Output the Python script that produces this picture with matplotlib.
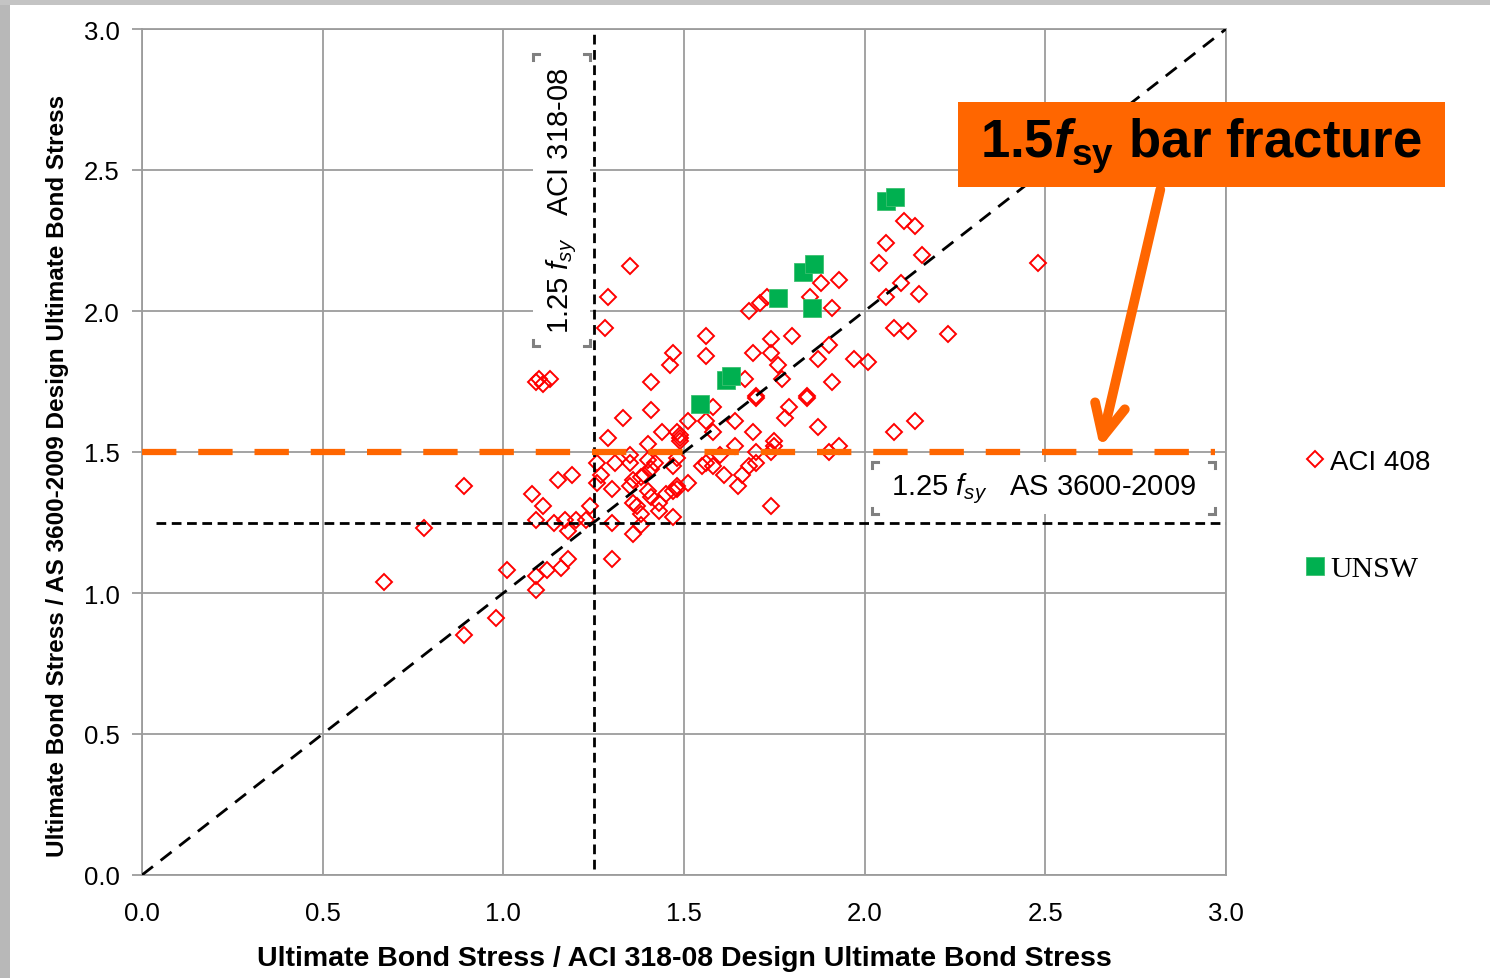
import numpy as np
import matplotlib
matplotlib.use('Agg')
import matplotlib.pyplot as plt
from matplotlib.patches import Rectangle
from matplotlib.lines import Line2D

plt.rcParams['font.family'] = ['Liberation Sans', 'DejaVu Sans']
plt.rcParams['mathtext.fontset'] = 'custom'
plt.rcParams['mathtext.rm'] = 'Liberation Sans'
plt.rcParams['mathtext.it'] = 'Liberation Sans:italic'
plt.rcParams['mathtext.bf'] = 'Liberation Sans:bold'
try:
    plt.rcParams['mathtext.bfit'] = 'Liberation Sans:italic:bold'
except KeyError:
    pass

# ACI 408 database points
aci_x = [0.67, 0.78, 0.89, 0.89, 0.98, 1.01, 1.08, 1.09, 1.11, 1.09, 1.09, 1.12,
         1.14, 1.15, 1.19, 1.17, 1.18, 1.16, 1.18, 1.20, 1.23, 1.24, 1.26, 1.26,
         1.30, 1.30, 1.09, 1.10, 1.11, 1.13, 1.29, 1.28, 1.35,
         1.29, 1.33, 1.41, 1.44, 1.48, 1.49, 1.51, 1.56, 1.58, 1.58, 1.64, 1.69,
         1.70, 1.79, 1.78, 1.87, 1.84, 1.90, 1.75, 1.74, 1.70, 1.64, 1.60, 1.61,
         1.58, 1.56, 1.55, 1.66, 1.68, 1.70, 1.65, 1.74,
         1.40, 1.35, 1.31, 1.35, 1.40, 1.42, 1.41, 1.39, 1.38, 1.36, 1.35, 1.27,
         1.30, 1.47, 1.48, 1.49, 1.48, 1.48, 1.47, 1.51, 1.45, 1.40, 1.41, 1.36,
         1.37, 1.38, 1.43, 1.47, 1.43, 1.38, 1.36,
         1.56, 1.56, 1.47, 1.46, 1.41,
         1.68, 1.71, 1.73, 1.74, 1.80, 1.69, 1.74, 1.76, 1.77, 1.67, 1.70, 1.84,
         1.91, 1.87, 1.90, 1.91, 1.88, 1.93, 1.85, 1.97, 2.01, 2.04, 2.06, 2.08,
         2.08, 1.49, 1.75, 1.93,
         2.11, 2.14, 2.06, 2.16, 2.48, 2.10, 2.15, 2.12, 2.23, 2.14]
aci_y = [1.04, 1.23, 1.38, 0.85, 0.91, 1.08, 1.35, 1.26, 1.31, 1.01, 1.06, 1.08,
         1.25, 1.40, 1.42, 1.26, 1.22, 1.09, 1.12, 1.26, 1.26, 1.31, 1.39, 1.46,
         1.12, 1.25, 1.75, 1.76, 1.74, 1.76, 2.05, 1.94, 2.16,
         1.55, 1.62, 1.65, 1.57, 1.57, 1.56, 1.61, 1.61, 1.66, 1.57, 1.61, 1.57,
         1.69, 1.66, 1.62, 1.59, 1.69, 1.50, 1.52, 1.50, 1.50, 1.52, 1.49, 1.42,
         1.45, 1.46, 1.45, 1.42, 1.45, 1.46, 1.38, 1.31,
         1.53, 1.49, 1.46, 1.46, 1.47, 1.46, 1.44, 1.42, 1.41, 1.40, 1.38, 1.42,
         1.37, 1.45, 1.48, 1.54, 1.38, 1.37, 1.36, 1.39, 1.35, 1.36, 1.34, 1.32,
         1.31, 1.28, 1.29, 1.27, 1.32, 1.24, 1.21,
         1.91, 1.84, 1.85, 1.81, 1.75,
         2.00, 2.03, 2.05, 1.90, 1.91, 1.85, 1.85, 1.81, 1.76, 1.76, 1.70, 1.70,
         1.75, 1.83, 1.88, 2.01, 2.10, 2.11, 2.05, 1.83, 1.82, 2.17, 2.05, 1.94,
         1.57, 1.55, 1.54, 1.52,
         2.32, 2.30, 2.24, 2.20, 2.17, 2.10, 2.06, 1.93, 1.92, 1.61]

# UNSW tests
unsw_x = [1.545, 1.615, 1.63, 1.76, 1.83, 1.86, 1.855, 2.06, 2.085]
unsw_y = [1.67, 1.755, 1.77, 2.045, 2.14, 2.165, 2.01, 2.39, 2.405]

ticks = [0.0, 0.5, 1.0, 1.5, 2.0, 2.5, 3.0]
limit_aci = 1.25     # 1.25 fsy ACI 318-08
limit_as = 1.25      # 1.25 fsy AS 3600-2009
fracture = 1.5       # 1.5 fsy bar fracture

red = '#ff0000'
green = '#00b050'
orange = '#ff6600'
grid_c = '#9c9c9c'

W, H = 1490, 979
fig = plt.figure(figsize=(W / 100, H / 100), dpi=100)
# grey slide frame on the left / top
fig.patches.append(Rectangle((0, 0), 10 / W, 1, transform=fig.transFigure,
                             facecolor='#b8b8b8', edgecolor='none', zorder=-5))
fig.patches.append(Rectangle((0, 1 - 6 / H), 1, 6 / H, transform=fig.transFigure,
                             facecolor='#c4c4c4', edgecolor='none', zorder=-5))

ax = fig.add_axes([142 / W, 103 / H, 1084 / W, 846 / H])
ax.set_xlim(0, 3)
ax.set_ylim(0, 3)
ax.set_xticks(ticks)
ax.set_yticks(ticks)
ax.set_xticklabels(['%.1f' % t for t in ticks])
ax.set_yticklabels(['%.1f' % t for t in ticks])
ax.tick_params(labelsize=18.5, color=grid_c, length=7, width=1.3, pad=9)
ax.tick_params(axis='x', length=0, pad=19)
ax.grid(True, color=grid_c, lw=1.3)
ax.set_axisbelow(True)
for s in ax.spines.values():
    s.set_color(grid_c)
    s.set_linewidth(1.3)

ax.plot(aci_x, aci_y, 'D', ms=8.5, mfc='none', mec=red, mew=1.4, ls='none',
        label='ACI 408', zorder=3)
ax.plot(unsw_x, unsw_y, 's', ms=13.5, mfc=green, mec='#3cc070', mew=0.6, ls='none',
        label='UNSW', zorder=3)

# reference lines
ax.plot([0, 3], [0, 3], color='black', lw=2, ls=(0, (5, 3.5)), zorder=4)
ax.plot([limit_aci, limit_aci], [0.02, 3], color='black', lw=2, ls=(0, (3.5, 2)), zorder=4)
ax.plot([0.04, 3], [limit_as, limit_as], color='black', lw=2, ls=(0, (3.5, 2)), zorder=4)
ax.plot([0, 2.97], [fracture, fracture], color=orange, lw=4.5, ls=(0, (5.5, 3.5)), zorder=4)

ax.set_xlabel('Ultimate Bond Stress / ACI 318-08 Design Ultimate Bond Stress',
              fontsize=20.5, fontweight='bold', labelpad=14)
ax.set_ylabel('Ultimate Bond Stress / AS 3600-2009 Design Ultimate Bond Stress',
              fontsize=17.5, fontweight='bold')
ax.yaxis.set_label_coords(-0.067, 0.473)

# white label boxes (x0, y0, w, h in data units) with the limit captions
boxes = [(1.082, 1.876, 0.158, 1.035), (2.020, 1.280, 0.950, 0.185)]
for bx, by, bw, bh in boxes:
    ax.add_patch(Rectangle((bx, by), bw, bh, facecolor='white', edgecolor='none', zorder=5))
ax.text(1.161, 2.393, r'1.25 $f_{sy}$   ACI 318-08', rotation=90, fontsize=21,
        ha='center', va='center', zorder=6)
ax.text(2.495, 1.372, r'1.25 $f_{sy}$   AS 3600-2009', fontsize=21,
        ha='center', va='center', zorder=6)

# bar fracture callout
fig.patches.append(Rectangle((958 / W, 1 - 188 / H), 487 / W, 85 / H,
                             transform=fig.transFigure, facecolor=orange,
                             edgecolor='none', zorder=6))
fig.text(1201 / W, 1 - 146 / H, r'1.5$\mathbfit{f}_{\mathbf{sy}}$ bar fracture',
         fontsize=38, fontweight='bold', ha='center', va='center', zorder=7)
ax.annotate('', xy=(2.65, 1.505), xytext=(2.82, 2.44),
            arrowprops=dict(arrowstyle='->,head_length=2.3,head_width=1.1',
                            color=orange, lw=7), zorder=6, annotation_clip=False)

leg = ax.legend(loc='upper left', bbox_to_anchor=(1.06, 0.52), frameon=False,
                fontsize=20, labelspacing=2.9, handlelength=0.7, handletextpad=0.2,
                borderpad=0)
leg.get_texts()[1].set_fontfamily('Liberation Serif')
leg.get_texts()[1].set_fontsize(21.5)

# small grey corner handles round the two text boxes
fig.canvas.draw()
for p in ax.patches:
    bb = p.get_window_extent()
    arm = 6
    for cx, sx in ((bb.x0, 1), (bb.x1, -1)):
        for cy, sy in ((bb.y0, 1), (bb.y1, -1)):
            xs = [(cx + sx * arm) / W, cx / W, cx / W]
            ys = [cy / H, cy / H, (cy + sy * arm) / H]
            fig.lines.append(Line2D(xs, ys, transform=fig.transFigure,
                                    color='#808080', lw=2.2, solid_joinstyle='miter'))

fig.savefig('out.png', dpi=100)
